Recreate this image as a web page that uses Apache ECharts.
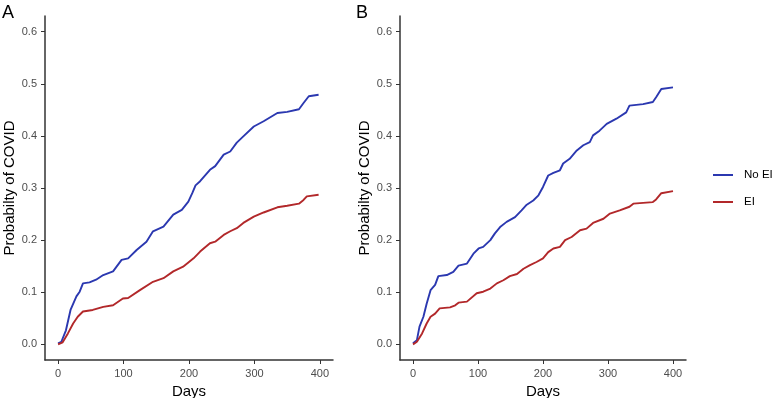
<!DOCTYPE html>
<html><head><meta charset="utf-8">
<script src="https://cdn.jsdelivr.net/npm/echarts@6/dist/echarts.min.js"></script>
<style>html,body{margin:0;padding:0;background:#fff}#c{width:777px;height:398px}</style>
</head><body><div id="c"></div>
<script>
const seriesNames = ['No EI', 'EI'];
const xTicks = [0, 100, 200, 300, 400];
const yTicks = [0, 0.1, 0.2, 0.3, 0.4, 0.5, 0.6];

// Panel A
const aNoEiDays = [0,5,12,19,28,33,38,48,58,69,84,97,107,120,135,145,161,176,189,199,205,210,217,232,240,253,263,273,283,299,314,335,350,368,375,383,398];
const aNoEiProb = [0.002,0.005,0.027,0.066,0.092,0.101,0.117,0.119,0.124,0.133,0.140,0.162,0.165,0.181,0.197,0.217,0.226,0.249,0.258,0.274,0.290,0.305,0.313,0.335,0.342,0.364,0.370,0.387,0.399,0.418,0.428,0.444,0.446,0.451,0.463,0.476,0.479];
const aEiDays = [0,7,15,23,30,38,53,69,84,99,107,125,145,161,176,191,207,217,232,240,253,263,273,283,299,314,335,350,368,375,380,398];
const aEiProb = [0.000,0.004,0.021,0.040,0.053,0.063,0.066,0.072,0.075,0.088,0.089,0.104,0.120,0.127,0.140,0.149,0.165,0.178,0.194,0.197,0.210,0.217,0.223,0.233,0.245,0.253,0.263,0.266,0.270,0.277,0.284,0.287];

// Panel B
const bNoEiDays = [0,6,10,16,21,27,34,39,52,62,70,83,93,101,108,119,126,134,144,157,167,175,185,193,200,208,216,226,231,241,252,262,272,277,287,298,313,328,333,354,369,374,382,400];
const bNoEiProb = [0.002,0.008,0.034,0.053,0.078,0.104,0.114,0.131,0.133,0.139,0.151,0.155,0.174,0.184,0.187,0.200,0.213,0.225,0.235,0.244,0.257,0.268,0.276,0.286,0.302,0.324,0.329,0.334,0.347,0.356,0.372,0.382,0.388,0.401,0.410,0.423,0.433,0.445,0.458,0.461,0.465,0.474,0.490,0.493];
const bEiDays = [0,6,14,21,27,34,41,57,65,70,83,98,108,119,129,139,149,160,170,180,190,200,208,216,226,234,244,257,267,277,293,303,318,333,339,369,374,382,400];
const bEiProb = [0.000,0.005,0.021,0.040,0.053,0.059,0.069,0.071,0.075,0.080,0.082,0.098,0.101,0.107,0.117,0.123,0.131,0.135,0.145,0.152,0.158,0.165,0.177,0.184,0.187,0.200,0.206,0.219,0.222,0.233,0.241,0.251,0.257,0.264,0.270,0.273,0.278,0.290,0.294];

const zip = (xs, ys) => xs.map((x, i) => [x, ys[i]]);
const FONT = "'Liberation Sans', Arial, sans-serif";
const BLUE = '#2b38b0', RED = '#b2282a';

function xAxis(gi) {
  return {
    type: 'value', gridIndex: gi, min: -20, max: 420,
    name: 'Days', nameLocation: 'middle', nameGap: 20,
    nameTextStyle: { fontFamily: FONT, fontSize: 15, color: '#000' },
    axisLine: { show: true, onZero: false, lineStyle: { color: '#333', width: 1.5 } },
    axisTick: { show: true, customValues: xTicks, length: 4, lineStyle: { color: '#333' } },
    axisLabel: { customValues: xTicks, fontFamily: FONT, fontSize: 11, color: '#4d4d4d', margin: 8 },
    splitLine: { show: false }
  };
}
function yAxis(gi) {
  return {
    type: 'value', gridIndex: gi, min: -0.03, max: 0.63,
    name: 'Probabilty of COVID', nameLocation: 'middle', nameGap: 27,
    nameTextStyle: { fontFamily: FONT, fontSize: 15, color: '#000' },
    axisLine: { show: true, onZero: false, lineStyle: { color: '#333', width: 1.5 } },
    axisTick: { show: true, customValues: yTicks, length: 4, lineStyle: { color: '#333' } },
    axisLabel: { customValues: yTicks, formatter: v => v.toFixed(1), fontFamily: FONT, fontSize: 11, color: '#4d4d4d', margin: 8 },
    splitLine: { show: false }
  };
}
function line(name, data, gi, color) {
  return { type: 'line', name, data, xAxisIndex: gi, yAxisIndex: gi, showSymbol: false, symbol: 'none',
    lineStyle: { color, width: 1.9 }, itemStyle: { color }, animation: false };
}

const chart = echarts.init(document.getElementById('c'));
chart.setOption({
  animation: false,
  title: [
    { text: 'A', left: 2, top: 4, padding: 0, textStyle: { fontFamily: FONT, fontSize: 18, fontWeight: 'normal', color: '#000' } },
    { text: 'B', left: 356, top: 4, padding: 0, textStyle: { fontFamily: FONT, fontSize: 18, fontWeight: 'normal', color: '#000' } }
  ],
  grid: [
    { left: 45, top: 16, width: 288, height: 344, containLabel: false, outerBoundsMode: 'none' },
    { left: 400, top: 16, width: 286, height: 344, containLabel: false, outerBoundsMode: 'none' }
  ],
  xAxis: [xAxis(0), xAxis(1)],
  yAxis: [yAxis(0), yAxis(1)],
  legend: {
    orient: 'vertical', left: 713, top: 169, padding: 0, itemWidth: 20, itemHeight: 14, itemGap: 15,
    data: seriesNames, icon: 'path://M0,6 L20,6 L20,8 L0,8 Z',
    textStyle: { fontFamily: FONT, fontSize: 11.5, color: '#000', padding: [0, 0, 0, 6] }
  },
  series: [
    line(seriesNames[0], zip(aNoEiDays, aNoEiProb), 0, BLUE),
    line(seriesNames[1], zip(aEiDays, aEiProb), 0, RED),
    line(seriesNames[0], zip(bNoEiDays, bNoEiProb), 1, BLUE),
    line(seriesNames[1], zip(bEiDays, bEiProb), 1, RED)
  ]
});
</script></body></html>
